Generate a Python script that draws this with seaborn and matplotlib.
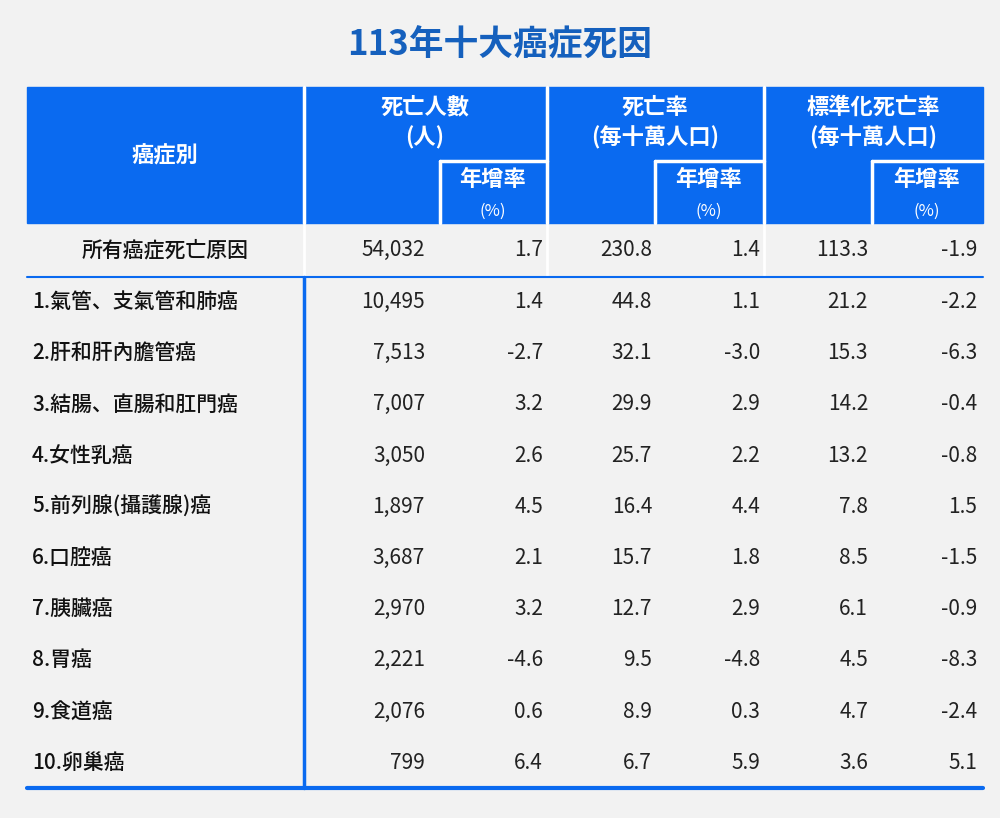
import matplotlib
matplotlib.use("Agg")
import matplotlib.pyplot as plt
from matplotlib.patches import Rectangle
import seaborn as sns

sns.set_theme(style="white")
plt.rcParams["font.family"] = ["Noto Sans CJK TC", "Noto Sans CJK JP", "Noto Sans CJK SC", "DejaVu Sans"]

title = "113年十大癌症死因"
causes = ["1.氣管、支氣管和肺癌", "2.肝和肝內膽管癌", "3.結腸、直腸和肛門癌", "4.女性乳癌",
          "5.前列腺(攝護腺)癌", "6.口腔癌", "7.胰臟癌", "8.胃癌", "9.食道癌", "10.卵巢癌"]
deaths = ["10,495", "7,513", "7,007", "3,050", "1,897", "3,687", "2,970", "2,221", "2,076", "799"]
deaths_chg = ["1.4", "-2.7", "3.2", "2.6", "4.5", "2.1", "3.2", "-4.6", "0.6", "6.4"]
rate = ["44.8", "32.1", "29.9", "25.7", "16.4", "15.7", "12.7", "9.5", "8.9", "6.7"]
rate_chg = ["1.1", "-3.0", "2.9", "2.2", "4.4", "1.8", "2.9", "-4.8", "0.3", "5.9"]
std_rate = ["21.2", "15.3", "14.2", "13.2", "7.8", "8.5", "6.1", "4.5", "4.7", "3.6"]
std_chg = ["-2.2", "-6.3", "-0.4", "-0.8", "1.5", "-1.5", "-0.9", "-8.3", "-2.4", "5.1"]
total_label = "所有癌症死亡原因"
total_vals = ["54,032", "1.7", "230.8", "1.4", "113.3", "-1.9"]

BG = "#f2f2f2"
BLUE = "#0a6af0"
TITLE_BLUE = "#1560bd"

fig = plt.figure(figsize=(10, 8.18), dpi=100, facecolor=BG)
ax = fig.add_axes([0, 0, 1, 1])
ax.set_xlim(0, 1000)
ax.set_ylim(818, 0)
ax.axis("off")

ax.text(500, 45, title, ha="center", va="center", fontsize=25, fontweight="bold", color=TITLE_BLUE)

# header blocks
ax.add_patch(Rectangle((27, 87), 956, 136, color=BLUE))
for x in [303.5, 547, 763.5]:
    ax.plot([x, x], [87, 223], color="white", lw=2.5)
for x0, x1 in [(440, 547), (655, 763.5), (872, 983)]:
    ax.plot([x0, x1], [161, 161], color="white", lw=2.5)
    ax.plot([x0, x0], [161, 223], color="white", lw=2.5)

hkw = dict(ha="center", va="center", color="white", fontweight="bold", fontsize=16)
ax.text(165, 156, "癌症別", **hkw)
ax.text(425, 107, "死亡人數", **hkw)
ax.text(425, 138, "(人)", **hkw)
ax.text(655, 107, "死亡率", **hkw)
ax.text(655, 138, "(每十萬人口)", **hkw)
ax.text(873, 107, "標準化死亡率", **hkw)
ax.text(873, 138, "(每十萬人口)", **hkw)
for xc in [493, 709, 927]:
    ax.text(xc, 180, "年增率", **hkw)
    ax.text(xc, 211, "(%)", ha="center", va="center", color="white", fontsize=12)

# total row
num_x = [425, 543, 652, 760, 868, 977]
ax.text(165, 250, total_label, ha="center", va="center", fontsize=15, fontweight="medium", color="#111111")
for x, v in zip(num_x, total_vals):
    ax.text(x, 250, v, ha="right", va="center", fontsize=15, color="#222222")
for x in [303.5, 547, 763.5]:
    ax.plot([x, x], [225, 275], color="white", lw=2)
ax.plot([27, 983], [277, 277], color=BLUE, lw=1.5)

# body rows
cols = [deaths, deaths_chg, rate, rate_chg, std_rate, std_chg]
for i, name in enumerate(causes):
    y = 302 + i * 51.2
    ax.text(32, y, name, ha="left", va="center", fontsize=15, fontweight="medium", color="#111111")
    for x, col in zip(num_x, cols):
        ax.text(x, y, col[i], ha="right", va="center", fontsize=15, color="#222222")

ax.plot([303.5, 303.5], [277, 788], color=BLUE, lw=2.5)
ax.plot([27, 983], [788, 788], color=BLUE, lw=3)

fig.savefig("out.png", dpi=100, facecolor=BG)
